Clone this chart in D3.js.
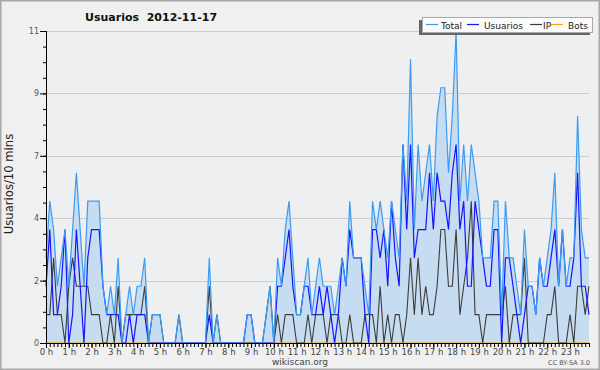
<!DOCTYPE html>
<html><head><meta charset="utf-8">
<script src="https://cdn.jsdelivr.net/npm/d3@7"></script>
<style>
html,body{margin:0;padding:0;background:#f0f0f0;}
svg{display:block;}
text{font-family:"DejaVu Sans",sans-serif;}
</style></head>
<body>
<svg id="chart" width="600" height="370"></svg>
<script>
// ---- data (10-minute slots, 0h00 .. 23h50) ----
const title = "Usuarios  2012-11-17";
const hourLabels = ["0 h","1 h","2 h","3 h","4 h","5 h","6 h","7 h","8 h","9 h","10 h","11 h","12 h","13 h","14 h","15 h","16 h","17 h","18 h","19 h","20 h","21 h","22 h","23 h"];
const yTickValues = [0, 2.2, 4.4, 6.6, 8.8, 11];
const yTickLabels = ["0","2","4","7","9","11"];
const seriesNames = ["Total","Usuarios","IP","Bots"];

const total = [3,5,4,2,3,4,2,4,6,4,2,5,5,5,5,2,1,2,1,3,0,1,2,1,2,2,3,0,1,1,1,0,0,0,0,1,0,0,0,0,0,0,0,3,0,1,0,0,0,0,0,0,0,1,1,0,0,0,1,2,0,3,2,4,5,3,1,1,2,3,1,2,3,2,2,2,1,2,3,2,5,3,3,3,2,1,5,4,5,4,3,5,4,3,7,5,10,4,7,5,6,7,5,8,9,9,6,8,11,5,7,5,7,6,5,3,3,3,5,5,1,5,3,3,2,1,4,2,2,1,3,2,3,4,6,2,4,2,3,3,8,4,3,3];
const usuarios = [2,4,1,1,2,4,0,1,4,2,0,3,4,4,4,2,1,1,1,1,0,0,1,0,1,1,1,0,0,0,0,0,0,0,0,0,0,0,0,0,0,0,0,1,0,0,0,0,0,0,0,0,0,1,1,0,0,0,0,0,0,2,2,3,4,2,1,1,2,2,1,1,2,1,2,1,0,1,3,2,4,3,3,3,1,0,4,4,3,4,2,5,3,2,7,4,7,3,4,4,4,6,4,6,5,5,4,6,7,4,5,2,2,5,4,3,2,2,4,4,0,3,3,2,1,0,1,2,2,1,3,2,2,3,4,2,4,2,2,3,6,2,2,1];
const ip = [1,1,3,1,1,0,2,3,2,2,2,2,1,1,1,0,0,1,0,2,0,1,1,1,1,1,2,0,1,1,1,0,0,0,0,1,0,0,0,0,0,0,0,2,0,1,0,0,0,0,0,0,0,0,0,0,0,0,1,2,0,1,0,1,1,1,0,0,0,1,0,1,1,1,0,1,1,1,0,0,1,0,0,0,1,1,1,0,2,0,1,0,1,1,0,1,3,1,3,1,2,1,1,2,4,4,2,2,4,1,2,3,5,1,1,0,1,1,1,1,1,2,0,1,1,1,3,0,0,0,0,0,1,1,2,0,0,0,1,0,2,2,1,2];
const bots = [0,0,0,0,0,0,0,0,0,0,0,0,0,0,0,0,0,0,0,0,0,0,0,0,0,0,0,0,0,0,0,0,0,0,0,0,0,0,0,0,0,0,0,0,0,0,0,0,0,0,0,0,0,0,0,0,0,0,0,0,0,0,0,0,0,0,0,0,0,0,0,0,0,0,0,0,0,0,0,0,0,0,0,0,0,0,0,0,0,0,0,0,0,0,0,0,0,0,0,0,0,0,0,0,0,0,0,0,0,0,0,0,0,0,0,0,0,0,0,0,0,0,0,0,0,0,0,0,0,0,0,0,0,0,0,0,0,0,0,0,0,0,0,0];

(function(){
const W = 600, H = 370;
const pL = 46, pR = 589, pT = 31, pB = 343;
const svg = d3.select("#chart");

svg.append("rect").attr("x",0.5).attr("y",0.5).attr("width",W-1).attr("height",H-1)
  .attr("fill","#f0f0f0").attr("stroke","#a8a8a8").attr("stroke-width",2);
svg.append("rect").attr("x",pL).attr("y",pT).attr("width",pR-pL).attr("height",pB-pT)
  .attr("fill","#eeeff1");

const x = d3.scaleLinear().domain([0, total.length-1]).range([pL, pR]);
const y = d3.scaleLinear().domain([0, 11]).range([pB, pT]);

// grid
svg.append("g").selectAll("line").data(yTickValues.filter(v=>v>0)).join("line")
  .attr("x1",pL).attr("x2",pR)
  .attr("y1",d=>Math.round(y(d))+0.5).attr("y2",d=>Math.round(y(d))+0.5)
  .attr("stroke","#cccccc").attr("stroke-width",1);

const idx = d3.range(total.length);
svg.append("path").datum(idx)
  .attr("fill","#c6dcf0")
  .attr("d", d3.area().x(i=>x(i)).y0(pB).y1(i=>y(total[i])));

const line = arr => d3.line().x(i=>x(i)).y(i=>y(arr[i]));
svg.append("path").datum(idx).attr("fill","none").attr("stroke","#ffa500").attr("stroke-width",1).attr("d",line(bots));
svg.append("path").datum(idx).attr("fill","none").attr("stroke","#3d3d3d").attr("stroke-width",1.1).attr("d",line(ip));
svg.append("path").datum(idx).attr("fill","none").attr("stroke","#1515ff").attr("stroke-width",1.2).attr("d",line(usuarios));
svg.append("path").datum(idx).attr("fill","none").attr("stroke","#3b9cf2").attr("stroke-width",1.2).attr("d",line(total));

// y axis
const yMinor = d3.range(0, 11.0001, 0.55);
const gyMinor = svg.append("g").attr("transform",`translate(${pL},0)`)
  .call(d3.axisLeft(y).tickValues(yMinor).tickSize(3).tickFormat(""));
gyMinor.select(".domain").remove();
gyMinor.selectAll("line").attr("stroke","#000");
const gy = svg.append("g").attr("transform",`translate(${pL},0)`)
  .call(d3.axisLeft(y).tickValues(yTickValues).tickSize(6).tickPadding(1)
    .tickFormat((d,i)=>yTickLabels[i]));
gy.select(".domain").attr("d",`M0.5,${pT}V${pB}`).attr("stroke","#000");
gy.selectAll("line").attr("stroke","#000");
gy.selectAll("text").attr("font-size",8).attr("fill","#555").attr("font-family","DejaVu Sans");

// x axis
const gxMinor = svg.append("g").attr("transform",`translate(0,${pB})`)
  .call(d3.axisBottom(x).tickValues(idx).tickSize(4).tickFormat(""));
gxMinor.select(".domain").remove();
gxMinor.selectAll("line").attr("stroke","#000");
const hourIdx = hourLabels.map((d,i)=>i*6);
const gx = svg.append("g").attr("transform",`translate(0,${pB})`)
  .call(d3.axisBottom(x).tickValues(hourIdx).tickSize(5).tickPadding(0)
    .tickFormat((d,i)=>hourLabels[i]));
gx.select(".domain").attr("d",`M${pL},0.5H${pR}`).attr("stroke","#000");
gx.selectAll("line").attr("stroke","#000");
gx.selectAll("text").attr("font-size",8.5).attr("fill","#444").attr("font-family","DejaVu Sans").attr("dy","0.85em");

// title
svg.append("text").attr("x",85).attr("y",21).attr("text-anchor","start")
  .attr("font-size",11).attr("font-weight","bold").attr("fill","#111")
  .attr("font-family","DejaVu Sans")
  .style("white-space","pre").text(title);

// y title
svg.append("text").attr("transform","translate(13,184) rotate(-90)").attr("text-anchor","middle")
  .attr("font-size",11.6).attr("fill","#222").attr("font-family","DejaVu Sans Mono, monospace")
  .text("Usuarios/10 mins");

// footer
svg.append("text").attr("x",300).attr("y",365).attr("text-anchor","middle")
  .attr("font-size",9).attr("fill","#444").text("wikiscan.org");
svg.append("text").attr("x",590).attr("y",365).attr("text-anchor","end")
  .attr("font-size",6.5).attr("fill","#555").text("CC BY-SA 3.0");

// legend
const lg = svg.append("g");
lg.append("rect").attr("x",419).attr("y",20).attr("width",171).attr("height",15).attr("fill","#666");
lg.append("rect").attr("x",422.5).attr("y",17.5).attr("width",170).attr("height",15).attr("fill","#fbfbfb").attr("stroke","#aaaaaa").attr("stroke-width",1);
const legColors = ["#3b9cf2","#1515ff","#3d3d3d","#ffa500"];
const legLineX = [426, 467, 530, 551];
const legTextX = [441, 484, 543, 568];
seriesNames.forEach((n,i)=>{
  lg.append("line").attr("x1",legLineX[i]).attr("x2",legLineX[i]+12).attr("y1",24.5).attr("y2",24.5)
    .attr("stroke",legColors[i]).attr("stroke-width",1.2);
  lg.append("text").attr("x",legTextX[i]).attr("y",28.5).attr("font-size",9).attr("fill","#222").text(n);
});
})();
</script>
</body></html>
